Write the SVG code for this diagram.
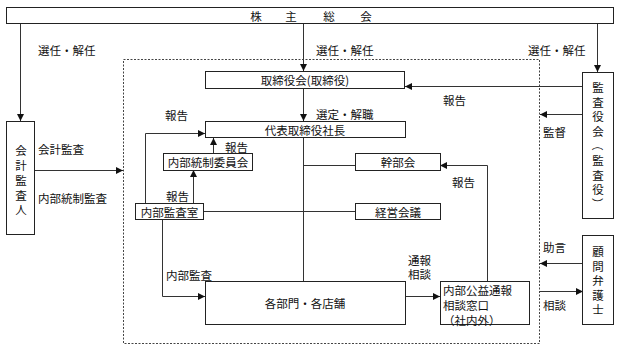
<svg xmlns="http://www.w3.org/2000/svg" width="620" height="349" viewBox="0 0 620 349">
<style>
text{font-family:"Noto Sans CJK JP","Noto Sans CJK SC",sans-serif;font-size:11.5px;fill:#111;dominant-baseline:central}
.c{text-anchor:middle}
.box{fill:#fff;stroke:#222;stroke-width:1}
.ln{fill:none;stroke:#333;stroke-width:1}
</style>
<defs>
<marker id="ah" viewBox="0 0 8 8" refX="8" refY="4" markerWidth="7" markerHeight="7" markerUnits="userSpaceOnUse" orient="auto">
<path d="M0,0 L8,4 L0,8 Z" fill="#111"/>
</marker>
</defs>
<rect x="123.5" y="59.5" width="416" height="284" fill="none" stroke="#444" stroke-width="1" stroke-dasharray="2,1.5"/>
<g id="connectors">
<path class="ln" d="M20.5,23 V121" marker-end="url(#ah)"/>
<path class="ln" d="M303.5,23 V71" marker-end="url(#ah)"/>
<path class="ln" d="M597.5,23 V72" marker-end="url(#ah)"/>
<path class="ln" d="M303.5,88 V121" marker-end="url(#ah)"/>
<path class="ln" d="M582,86.5 H405" marker-end="url(#ah)"/>
<path class="ln" d="M582,114.5 H540" marker-end="url(#ah)"/>
<path class="ln" d="M35,170.5 H123" marker-end="url(#ah)"/>
<path class="ln" d="M145.5,203 V133.5 H205" marker-end="url(#ah)"/>
<path class="ln" d="M213.5,153 V138" marker-end="url(#ah)"/>
<path class="ln" d="M193.5,203 V170" marker-end="url(#ah)"/>
<path class="ln" d="M303.5,138 V281"/>
<path class="ln" d="M303.5,165.5 H355"/>
<path class="ln" d="M204,211.5 H355"/>
<path class="ln" d="M487.5,281 V165.5 H440" marker-end="url(#ah)"/>
<path class="ln" d="M162.5,219 V296.5 H205" marker-end="url(#ah)"/>
<path class="ln" d="M406,296.5 H440" marker-end="url(#ah)"/>
<path class="ln" d="M583,263.5 H540" marker-end="url(#ah)"/>
<path class="ln" d="M540,291.5 H583" marker-end="url(#ah)"/>
</g>
<g id="shareholders">
<rect class="box" x="6.5" y="7.5" width="607" height="16"/>
<text x="256" y="15.5" class="c">株</text>
<text x="291" y="15.5" class="c">主</text>
<text x="329" y="15.5" class="c">総</text>
<text x="366" y="15.5" class="c">会</text>
</g>
<g id="labels">
<text x="38" y="50">選任・解任</text>
<text x="316" y="50">選任・解任</text>
<text x="528" y="50">選任・解任</text>
<text x="443" y="100">報告</text>
<text x="316" y="114">選定・解職</text>
<text x="165" y="115">報告</text>
<text x="543" y="132">監督</text>
<text x="38" y="149">会計監査</text>
<text x="225" y="147">報告</text>
<text x="452" y="182">報告</text>
<text x="166" y="196">報告</text>
<text x="38" y="198">内部統制監査</text>
<text x="543" y="247">助言</text>
<text x="408" y="259.5">通報</text>
<text x="408" y="274">相談</text>
<text x="166" y="275">内部監査</text>
<text x="543" y="305">相談</text>
</g>
<g id="board">
<rect class="box" x="205.5" y="71.5" width="199" height="17"/>
<text x="305" y="80" class="c">取締役会(取締役)</text>
</g>
<g id="president">
<rect class="box" x="205.5" y="121.5" width="200" height="16"/>
<text x="305" y="129.5" class="c">代表取締役社長</text>
</g>
<g id="auditors">
<rect class="box" x="582.5" y="72.5" width="31" height="146"/>
<text x="598" y="87" class="c">監</text>
<text x="598" y="101.5" class="c">査</text>
<text x="598" y="116" class="c">役</text>
<text x="598" y="130.5" class="c">会</text>
<text x="598" y="145" class="c" transform="rotate(90 598 145)">（</text>
<text x="598" y="160" class="c">監</text>
<text x="598" y="174.5" class="c">査</text>
<text x="598" y="189" class="c">役</text>
<text x="598" y="203.5" class="c" transform="rotate(90 598 203.5)">）</text>
</g>
<g id="accountant">
<rect class="box" x="6.5" y="121.5" width="28" height="113"/>
<text x="21" y="150" class="c">会</text>
<text x="21" y="165" class="c">計</text>
<text x="21" y="180" class="c">監</text>
<text x="21" y="194.5" class="c">査</text>
<text x="21" y="209" class="c">人</text>
</g>
<g id="icc">
<rect class="box" x="163.5" y="153.5" width="89" height="17"/>
<text x="208" y="162" class="c">内部統制委員会</text>
</g>
<g id="kanbu">
<rect class="box" x="355.5" y="153.5" width="85" height="17"/>
<text x="398" y="162" class="c">幹部会</text>
</g>
<g id="internal-audit">
<rect class="box" x="135.5" y="203.5" width="68" height="16"/>
<text x="169.5" y="211.5" class="c">内部監査室</text>
</g>
<g id="keiei">
<rect class="box" x="355.5" y="203.5" width="85" height="16"/>
<text x="398" y="211.5" class="c">経営会議</text>
</g>
<g id="depts">
<rect class="box" x="205.5" y="281.5" width="200" height="43"/>
<text x="305" y="303" class="c">各部門・各店舗</text>
</g>
<g id="whistle">
<rect class="box" x="440.5" y="281.5" width="89" height="43"/>
<text x="443" y="290">内部公益通報</text>
<text x="443" y="305">相談窓口</text>
<text x="443" y="320">（社内外）</text>
</g>
<g id="lawyer">
<rect class="box" x="582.5" y="235.5" width="31" height="89"/>
<text x="598" y="251" class="c">顧</text>
<text x="598" y="265.5" class="c">問</text>
<text x="598" y="280" class="c">弁</text>
<text x="598" y="294.5" class="c">護</text>
<text x="598" y="309" class="c">士</text>
</g>
</svg>
